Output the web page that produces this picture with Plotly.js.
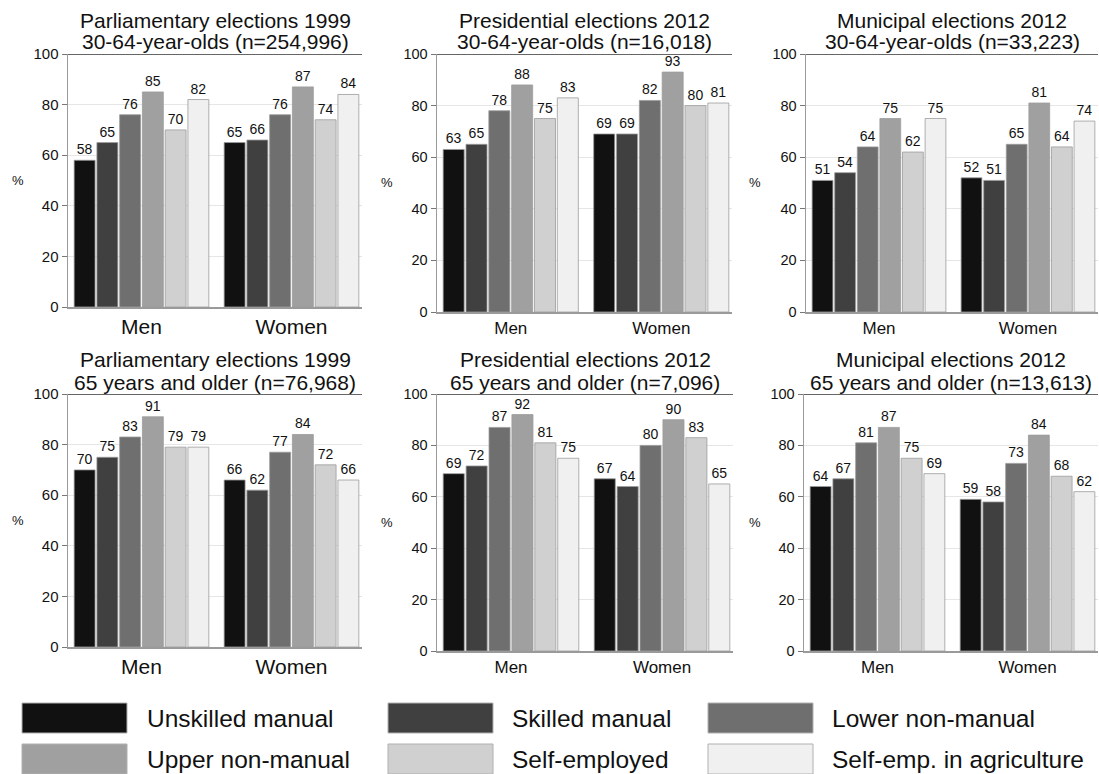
<!DOCTYPE html>
<html>
<head>
<meta charset="utf-8">
<script src="https://cdn.plot.ly/plotly-3.0.1.min.js"></script>
<style>html,body{margin:0;padding:0;background:#fff;}#chart{width:1099px;height:774px;}</style>
</head>
<body>
<div id="chart"></div>
<script>
// ---- data ----
const groups = ["Men", "Women"];
const classes = ["Unskilled manual", "Skilled manual", "Lower non-manual", "Upper non-manual", "Self-employed", "Self-emp. in agriculture"];
const colors = ["#111111", "#404040", "#6f6f6f", "#a0a0a0", "#d0d0d0", "#f0f0f0"];
const titleLine1 = [
  "Parliamentary elections 1999",
  "Presidential elections 2012",
  "Municipal elections 2012",
  "Parliamentary elections 1999",
  "Presidential elections 2012",
  "Municipal elections 2012"
];
const titleLine2 = [
  "30-64-year-olds (n=254,996)",
  "30-64-year-olds (n=16,018)",
  "30-64-year-olds (n=33,223)",
  "65 years and older (n=76,968)",
  "65 years and older (n=7,096)",
  "65 years and older (n=13,613)"
];
// values per panel: [Men values by class, Women values by class]
const parl1999Young = [[58, 65, 76, 85, 70, 82], [65, 66, 76, 87, 74, 84]];
const pres2012Young = [[63, 65, 78, 88, 75, 83], [69, 69, 82, 93, 80, 81]];
const mun2012Young  = [[51, 54, 64, 75, 62, 75], [52, 51, 65, 81, 64, 74]];
const parl1999Old   = [[70, 75, 83, 91, 79, 79], [66, 62, 77, 84, 72, 66]];
const pres2012Old   = [[69, 72, 87, 92, 81, 75], [67, 64, 80, 90, 83, 65]];
const mun2012Old    = [[64, 67, 81, 87, 75, 69], [59, 58, 73, 84, 68, 62]];
const panels = [parl1999Young, pres2012Young, mun2012Young, parl1999Old, pres2012Old, mun2012Old];
const yTicks = [0, 20, 40, 60, 80, 100];

// ---- layout geometry (pixels) ----
const W = 1099, H = 774;
const boxes = [
  {x0: 68, x1: 362, y0: 54, y1: 307, big: true},
  {x0: 437, x1: 732, y0: 54, y1: 312, big: false},
  {x0: 806, x1: 1098, y0: 54, y1: 312, big: false},
  {x0: 68, x1: 362, y0: 394, y1: 647, big: true},
  {x0: 437, x1: 733, y0: 394, y1: 651, big: false},
  {x0: 804, x1: 1098, y0: 394, y1: 651, big: false}
];
const FONT = "Liberation Sans, Arial, Helvetica, sans-serif";

const traces = [];
const layout = {
  width: W, height: H, autosize: false,
  margin: {l: 0, r: 0, t: 0, b: 0},
  paper_bgcolor: "#fff", plot_bgcolor: "#fff",
  font: {family: FONT, color: "#111"},
  showlegend: false,
  barmode: "group",
  bargap: 0.09,
  bargroupgap: 0.08,
  annotations: [],
  shapes: []
};

panels.forEach((pv, p) => {
  const sfx = p === 0 ? "" : String(p + 1);
  const b = boxes[p];
  classes.forEach((cls, c) => {
    traces.push({
      type: "bar",
      name: cls,
      x: groups,
      y: [pv[0][c], pv[1][c]],
      xaxis: "x" + sfx,
      yaxis: "y" + sfx,
      marker: {color: colors[c], line: {color: "#9c9c9c", width: 0.8}},
      text: [String(pv[0][c]), String(pv[1][c])],
      textposition: "outside",
      textfont: {size: 14, color: "#111", family: FONT},
      constraintext: "none",
      cliponaxis: false,
      hoverinfo: "name+y"
    });
  });
  layout["xaxis" + sfx] = {
    domain: [b.x0 / W, b.x1 / W],
    anchor: "y" + sfx,
    type: "category",
    range: [-0.49, 1.47],
    showline: true, linecolor: "#9a9a9a", linewidth: 1.5,
    ticks: "", showgrid: false, zeroline: false,
    tickfont: {size: b.big ? 21 : 17, color: "#111", family: FONT},
    fixedrange: true
  };
  layout["yaxis" + sfx] = {
    domain: [1 - b.y1 / H, 1 - b.y0 / H],
    anchor: "x" + sfx,
    range: [0, 100],
    tickvals: yTicks,
    ticktext: yTicks.map(String),
    showgrid: true, gridcolor: "#e6e6e6", gridwidth: 1,
    zeroline: false,
    showline: true, linecolor: "#9a9a9a", linewidth: 1.5,
    ticks: "outside", ticklen: 5, tickcolor: "#777",
    tickfont: {size: b.big ? 15 : 14.5, color: "#111", family: FONT},
    fixedrange: true
  };
  // dark top border at 100
  layout.shapes.push({
    type: "line", xref: "x" + sfx + " domain", yref: "y" + sfx,
    x0: 0, x1: 1, y0: 100, y1: 100,
    line: {color: "#333", width: 1.5}
  });
  // panel title (two lines)
  const cx = (b.x0 + b.x1) / 2 / W;
  [[titleLine1[p], b.y0 - 34], [titleLine2[p], b.y0 - 12]].forEach(([t, yc]) => {
    layout.annotations.push({
      text: t, xref: "paper", yref: "paper",
      x: cx, y: 1 - yc / H,
      xanchor: "center", yanchor: "middle",
      showarrow: false, align: "center",
      font: {size: 21, color: "#111", family: FONT}
    });
  });
  // "%" axis title
  const pctX = [18, 387, 755, 18, 387, 755][p];
  layout.annotations.push({
    text: "%", xref: "paper", yref: "paper",
    x: pctX / W, y: 1 - ((b.y0 + b.y1) / 2) / H,
    xanchor: "center", yanchor: "middle", showarrow: false,
    font: {size: 13, color: "#111", family: FONT}
  });
});

// ---- custom legend ----
const legColX = [22, 388, 708];
const legTextX = [145, 510, 830];
const legRowY = [703, 744];
const swW = 105, swH = 30;
classes.forEach((cls, i) => {
  const col = i % 3, row = Math.floor(i / 3);
  layout.shapes.push({
    type: "rect", xref: "paper", yref: "paper",
    x0: legColX[col] / W, x1: (legColX[col] + swW) / W,
    y0: 1 - (legRowY[row] + swH) / H, y1: 1 - legRowY[row] / H,
    fillcolor: colors[i], line: {color: "#b0b0b0", width: 1}
  });
  layout.annotations.push({
    text: cls, xref: "paper", yref: "paper",
    x: legTextX[col] / W, y: 1 - (legRowY[row] + swH / 2) / H,
    xanchor: "left", yanchor: "middle", showarrow: false,
    font: {size: 24.5, color: "#111", family: FONT}
  });
});

Plotly.newPlot("chart", traces, layout, {displayModeBar: false, staticPlot: true});
</script>
</body>
</html>
